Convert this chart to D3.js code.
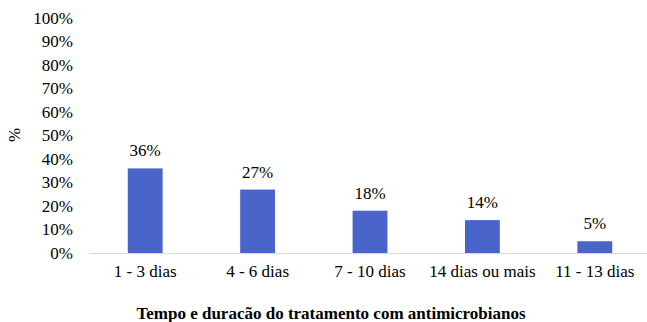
<!DOCTYPE html>
<html>
<head>
<meta charset="utf-8">
<script src="https://cdn.jsdelivr.net/npm/d3@7"></script>
<style>
  html, body { margin: 0; padding: 0; background: #fff; }
</style>
</head>
<body>
<svg id="chart" width="647" height="322"></svg>
<script>
// Duração do tratamento (categorias) e percentuais
const categories = ["1 - 3 dias", "4 - 6 dias", "7 - 10 dias", "14 dias ou mais", "11 - 13 dias"];
const values = [36, 27, 18, 14, 5];
const yTicks = [0, 10, 20, 30, 40, 50, 60, 70, 80, 90, 100];
const xTitle = "Tempo e duracão do tratamento com antimicrobianos";
const yTitle = "%";

const serif = "'Liberation Serif', 'Times New Roman', 'DejaVu Serif', serif";
const svg = d3.select("#chart");
const plot = { left: 89, right: 651, top: 18, bottom: 253 };
const fontSize = 17;

const x = d3.scaleBand().domain(categories).range([plot.left, plot.right]).paddingInner(0.69).paddingOuter(0.345);
const y = d3.scaleLinear().domain([0, 100]).range([plot.bottom, plot.top]);

// Eixo Y (apenas rótulos)
const yAxis = svg.append("g")
  .attr("transform", `translate(${plot.left},0)`)
  .call(d3.axisLeft(y).tickValues(yTicks).tickFormat(d => d + "%").tickSize(0).tickPadding(16));
yAxis.select(".domain").remove();

// Barras
svg.append("g").selectAll("rect").data(values).join("rect")
  .attr("x", (d, i) => x(categories[i]))
  .attr("y", d => y(d))
  .attr("width", x.bandwidth())
  .attr("height", d => y(0) - y(d))
  .attr("fill", "#4a65c9");

// Rótulos de valor
svg.append("g").selectAll("text").data(values).join("text")
  .attr("x", (d, i) => x(categories[i]) + x.bandwidth() / 2)
  .attr("y", d => y(d) - 12)
  .attr("text-anchor", "middle")
  .text(d => d + "%");

// Eixo X
const xAxis = svg.append("g")
  .attr("transform", `translate(0,${plot.bottom})`)
  .call(d3.axisBottom(x).tickSize(0).tickPadding(12));
xAxis.select(".domain").attr("stroke", "#d9d9d9").attr("stroke-width", 1);

// Títulos dos eixos
svg.append("text")
  .attr("transform", `translate(20,135) rotate(-90)`)
  .attr("text-anchor", "middle")
  .text(yTitle);

svg.append("text")
  .attr("x", 331)
  .attr("y", 319)
  .attr("text-anchor", "middle")
  .style("font-weight", "bold")
  .text(xTitle);

// Tipografia comum a todos os textos
svg.selectAll("g").attr("font-family", null);
svg.selectAll("text")
  .style("font-family", serif)
  .style("font-size", fontSize + "px")
  .style("fill", "#000");
</script>
</body>
</html>
